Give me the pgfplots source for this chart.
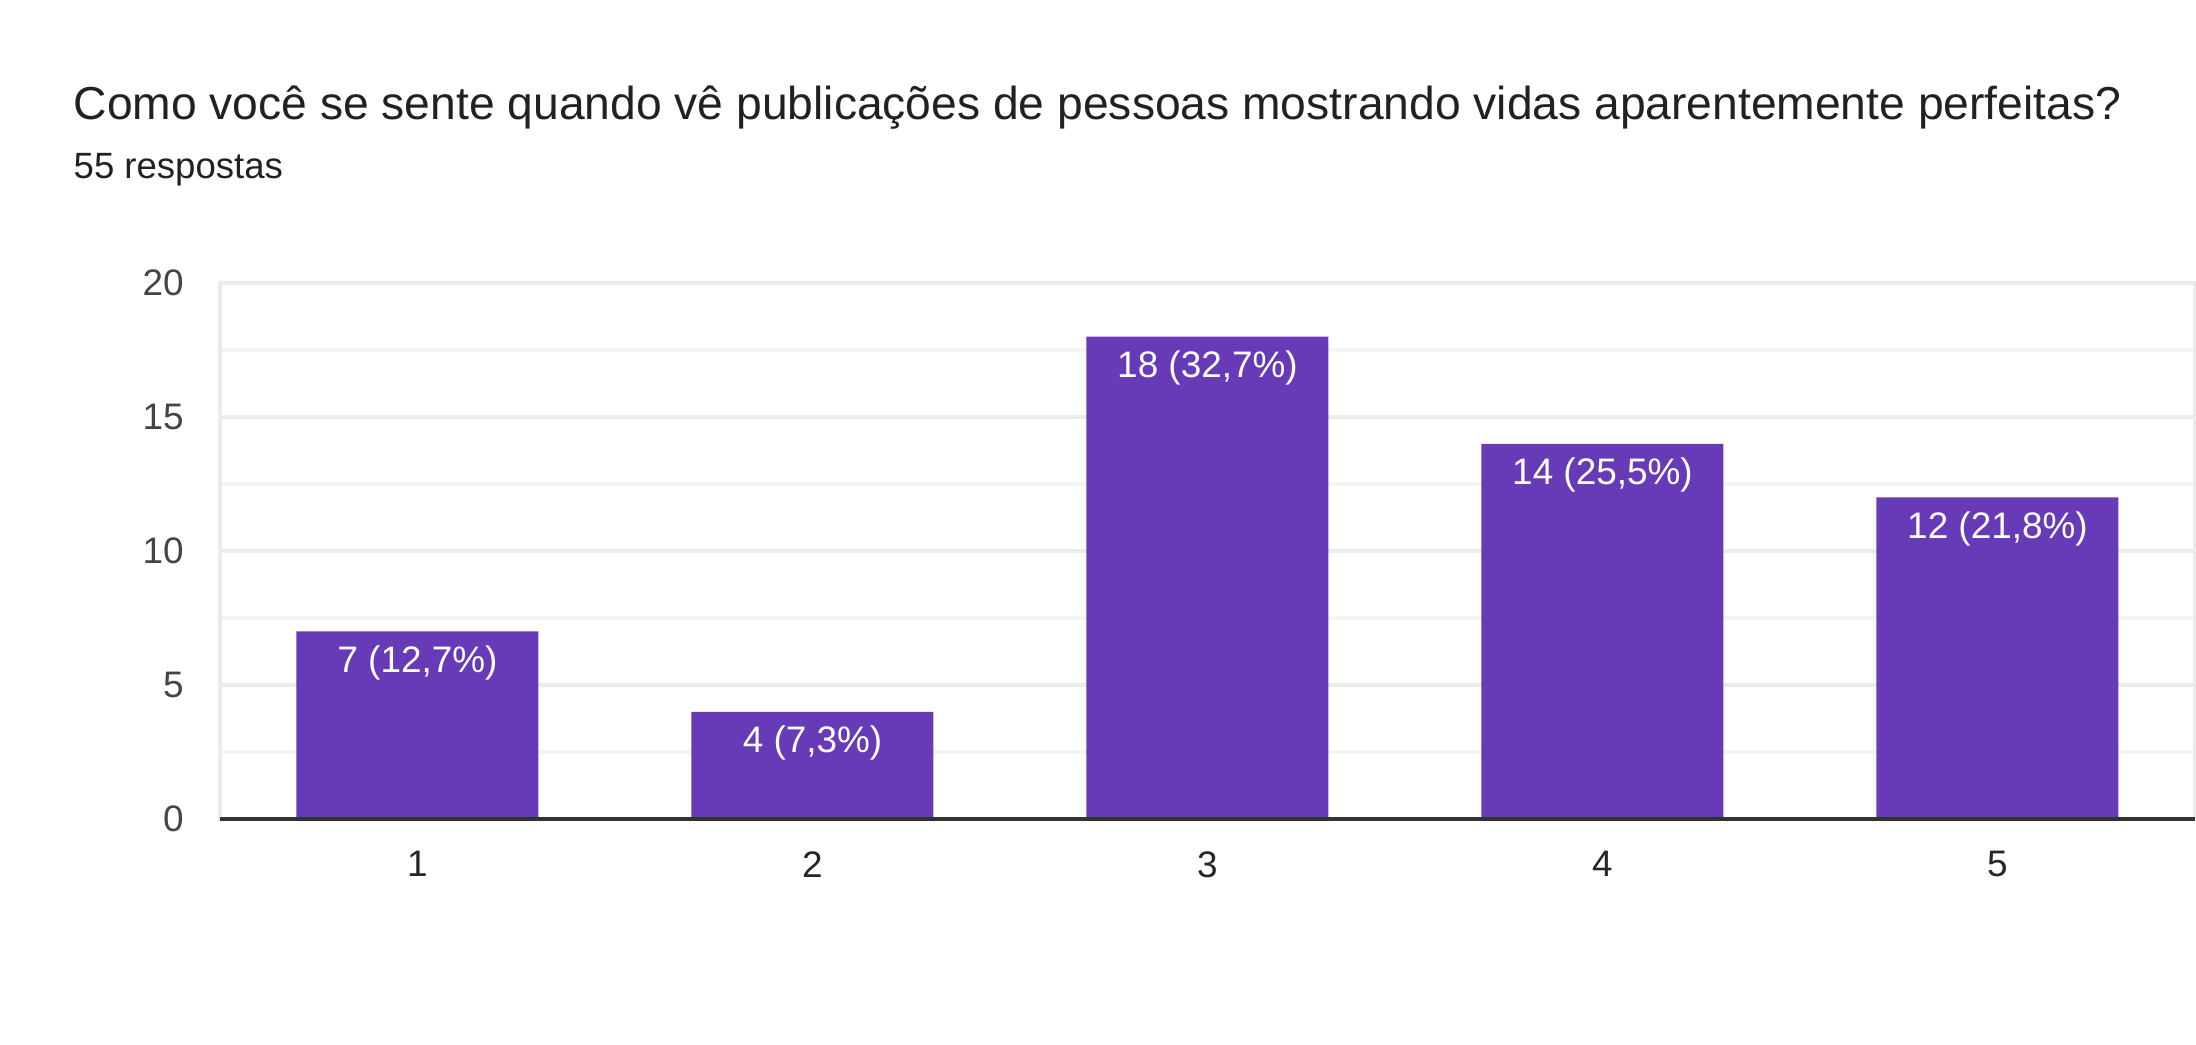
\documentclass[border=0pt]{standalone}
\usepackage{fontspec}
\setmainfont{Liberation Sans}
\usepackage{pgfplots}
\pgfplotsset{compat=1.18}
\definecolor{barpurple}{HTML}{673AB7}
\definecolor{gridmaj}{HTML}{EBEBEB}
\definecolor{gridmin}{HTML}{F4F4F4}
\definecolor{titlecol}{HTML}{202124}
\definecolor{tickcol}{HTML}{444444}
\begin{document}
\begin{tikzpicture}
\useasboundingbox (0,0) rectangle (21.96,10.44);
\node[anchor=base west, font=\fontsize{13.15}{15}\selectfont, text=titlecol, inner sep=0pt]
  at (0.73,9.24) {Como você se sente quando vê publicações de pessoas mostrando vidas aparentemente perfeitas?};
\node[anchor=base west, font=\fontsize{10.4}{12}\selectfont, text=titlecol, inner sep=0pt]
  at (0.73,8.65) {55 respostas};
\begin{axis}[
    at={(2.2cm,2.25cm)}, anchor=south west,
    scale only axis,
    width=19.75cm, height=5.36cm,
    ybar, bar width=2.42cm,
    xmin=0.5, xmax=5.5,
    ymin=0, ymax=20,
    xtick={1,2,3,4,5},
    ytick={0,5,10,15,20},
    minor ytick={2.5,7.5,12.5,17.5},
    ymajorgrids, yminorgrids,
    major grid style={gridmaj, line width=0.9pt},
    minor grid style={gridmin, line width=0.9pt},
    axis line style={gridmaj, line width=0.9pt},
    major tick length=0pt, minor tick length=0pt,
    tick style={draw=none},
    /pgf/number format/assume math mode=true,
    yticklabel style={font=\fontsize{10.5}{12}\selectfont, text=tickcol, xshift=-0.24cm},
    xticklabel style={font=\fontsize{10.5}{12}\selectfont, text=black!85, yshift=-0.2cm},
    point meta=explicit symbolic,
    nodes near coords,
    every node near coord/.append style={anchor=north, yshift=-0.02cm, text=white,
        font=\fontsize{10.5}{12}\selectfont},
    clip=false,
]
    \addplot[fill=barpurple, draw=none] coordinates {
        (1,7) [7 (12,7\%)]
        (2,4) [4 (7,3\%)]
        (3,18) [18 (32,7\%)]
        (4,14) [14 (25,5\%)]
        (5,12) [12 (21,8\%)]
    };
    \draw[black!80, line width=0.9pt] (axis cs:0.5,0) -- (axis cs:5.5,0);
\end{axis}
\end{tikzpicture}
\end{document}
